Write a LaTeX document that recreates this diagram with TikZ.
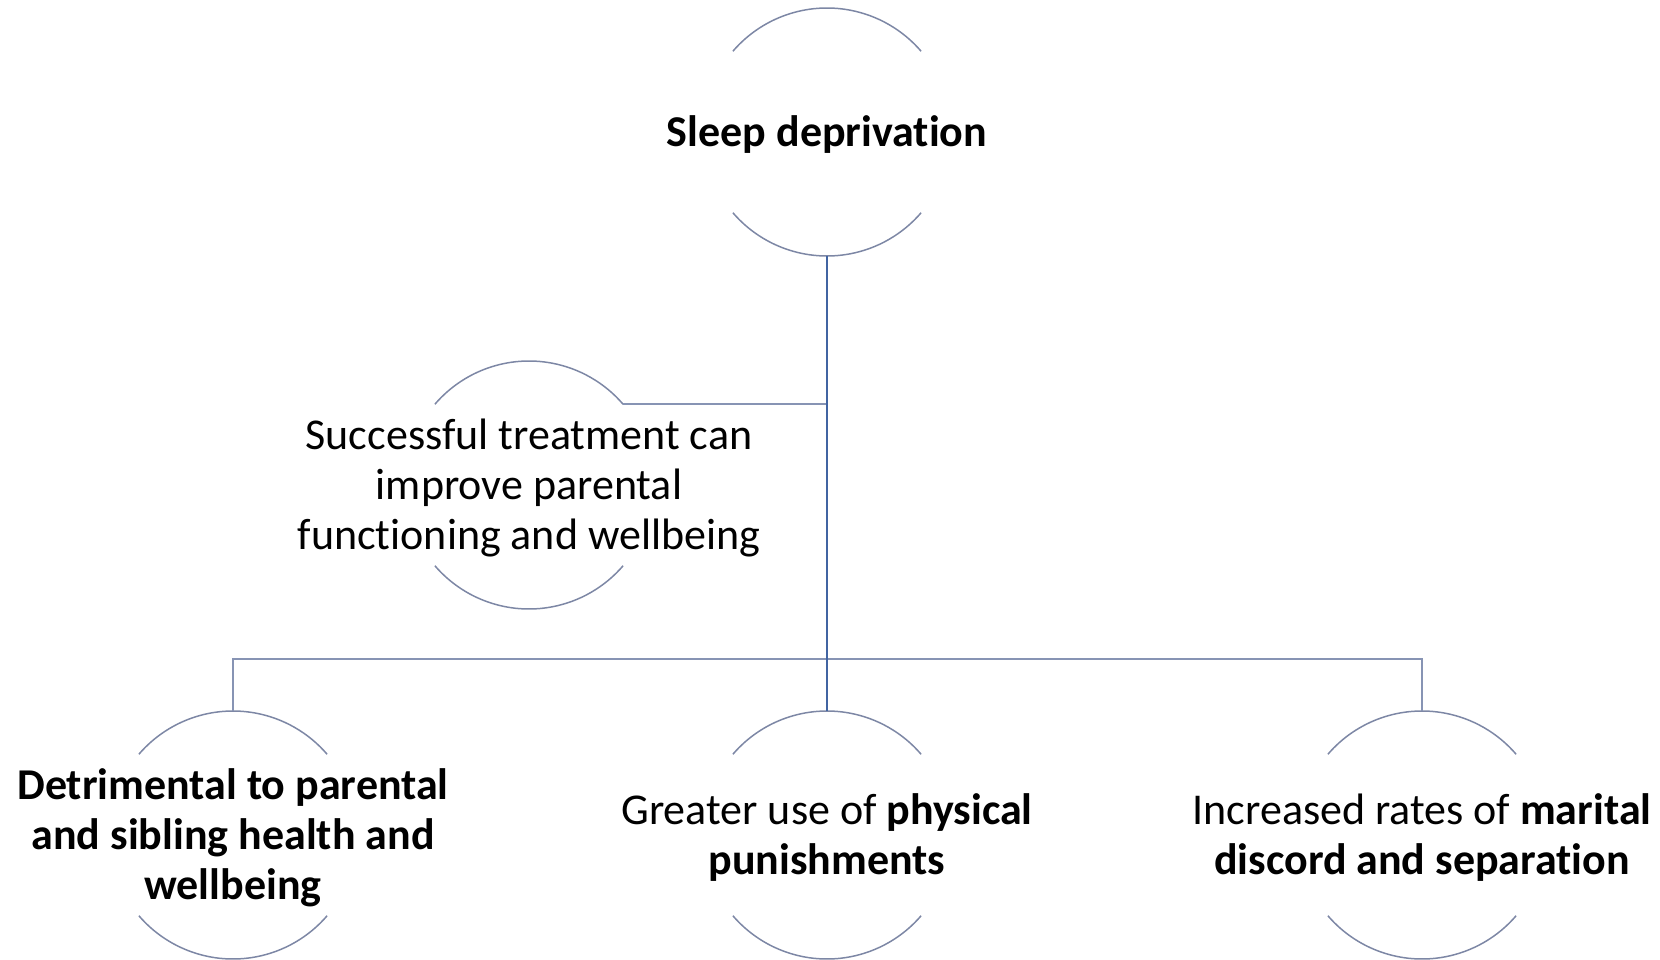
\documentclass[tikz,border=0pt]{standalone}
\usepackage{fontspec}
\setmainfont{Carlito}[Ligatures={NoCommon}]
\definecolor{arcgray}{RGB}{125,135,165}
\definecolor{mainblue}{RGB}{65,100,162}
\definecolor{linkgray}{RGB}{135,148,180}
\tikzset{
  lbl/.style={align=center, inner sep=0pt, font=\fontsize{44}{50}\selectfont},
  arcline/.style={draw=arcgray, line width=1.5pt},
  mainlink/.style={draw=mainblue, line width=2.2pt},
  sidelink/.style={draw=linkgray, line width=2pt},
}
\newcommand{\arcpair}[1]{%
  \draw[arcline] ([shift={(139.4:124pt)}]#1.center) arc[start angle=139.4,end angle=40.6,radius=124pt];
  \draw[arcline] ([shift={(220.6:124pt)}]#1.center) arc[start angle=220.6,end angle=319.4,radius=124pt];
}
\begin{document}
\begin{tikzpicture}[x=1pt,y=1pt]
\useasboundingbox (0,0) rectangle (1660,-960);
% circle centres
\coordinate (csd) at (827,-132);
\coordinate (cst) at (529,-485);
\coordinate (cdt) at (233,-835);
\coordinate (cgu) at (827,-835);
\coordinate (cir) at (1422,-835);
% labels
\node[lbl, yshift=-3pt] (sd) at (csd) {\textbf{Sleep deprivation}};
\node[lbl, yshift=-3pt] (st) at (cst) {Successful treatment can\\improve parental\\functioning and wellbeing};
\node[lbl, yshift=-3pt] (dt) at (cdt) {\textbf{Detrimental to parental}\\\textbf{and sibling health and}\\\textbf{wellbeing}};
\node[lbl, yshift=-3pt] (gu) at (cgu) {Greater use of \textbf{physical}\\\textbf{punishments}};
\node[lbl, yshift=-3pt] (ir) at (cir) {Increased rates of \textbf{marital}\\\textbf{discord and separation}};
% arcs
\arcpair{csd}
\arcpair{cst}
\arcpair{cdt}
\arcpair{cgu}
\arcpair{cir}
% connector points
\coordinate (sdb) at ([yshift=-124pt]csd);
\coordinate (stc) at ([shift={(40.6:124pt)}]cst);
\coordinate (dtt) at ([yshift=124pt]cdt);
\coordinate (gut) at ([yshift=124pt]cgu);
\coordinate (irt) at ([yshift=124pt]cir);
\coordinate (busL) at (dtt |- 0,-659);
\coordinate (busR) at (irt |- 0,-659);
\coordinate (stj) at (sdb |- stc);
% connectors
\draw[sidelink] (stc) -- (stj);
\draw[sidelink] (dtt) -- (busL) -- (busR) -- (irt);
\draw[mainlink] (sdb) -- (gut);
\end{tikzpicture}
\end{document}
